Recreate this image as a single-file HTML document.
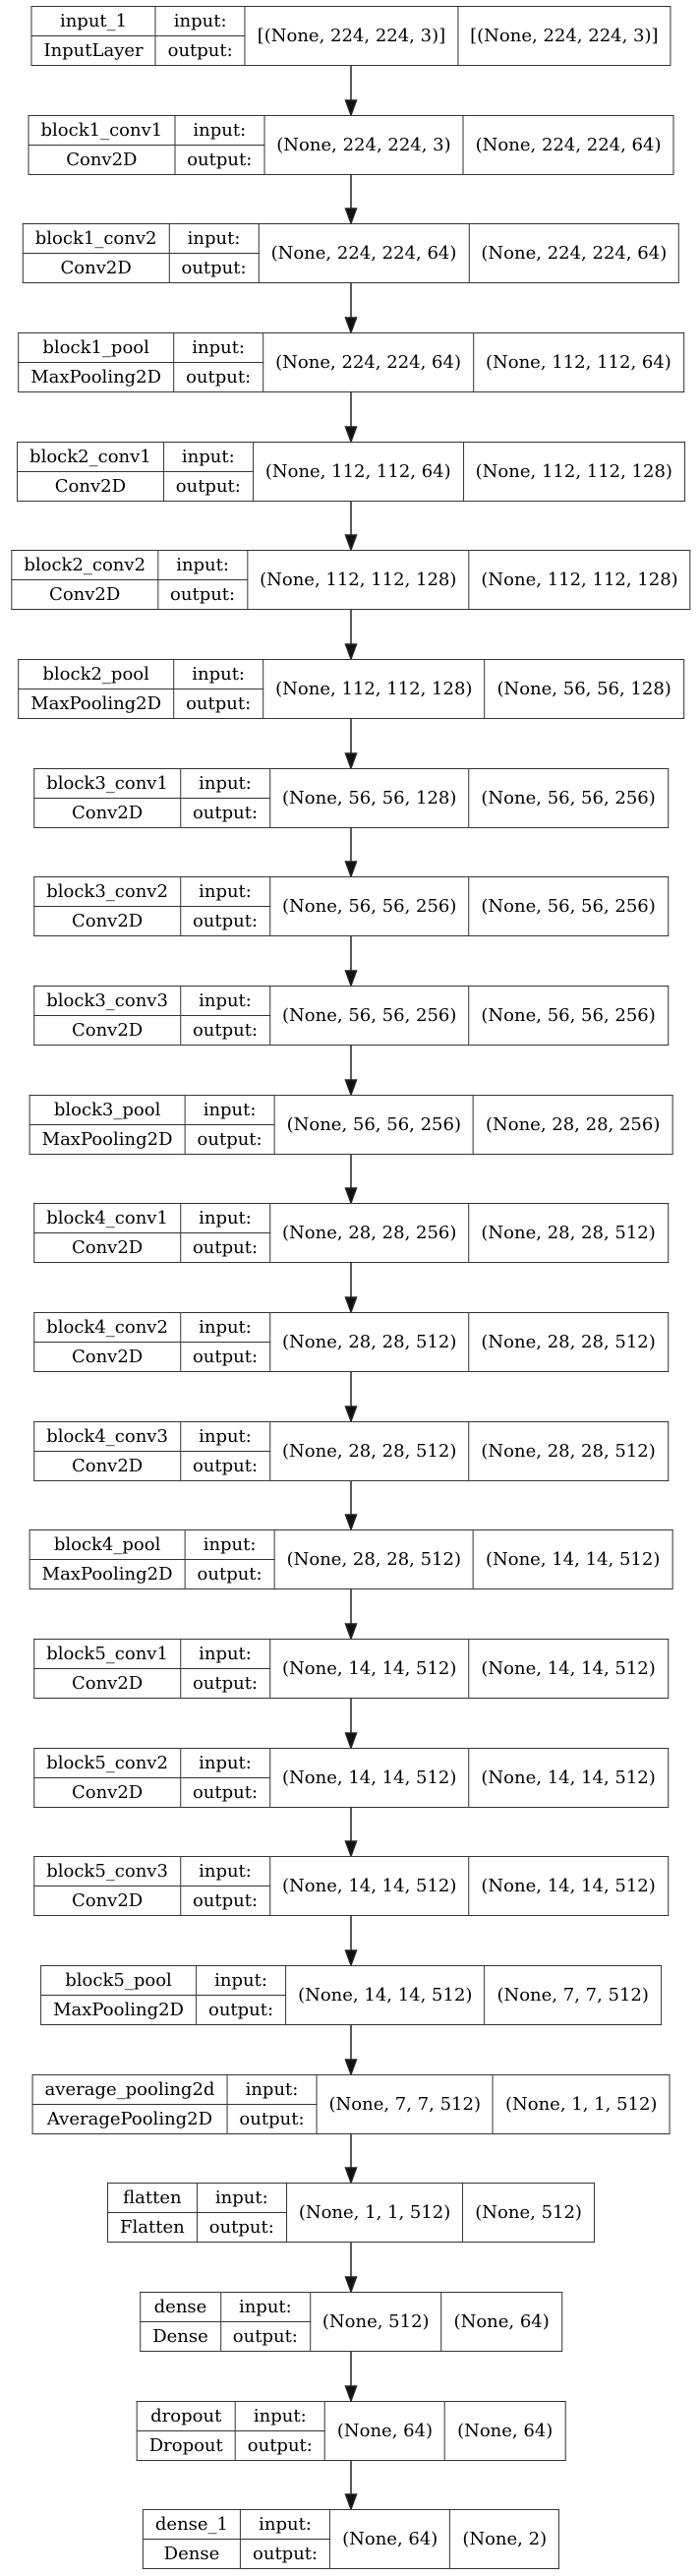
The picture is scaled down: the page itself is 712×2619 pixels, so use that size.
<!DOCTYPE html>
<html><head><meta charset="utf-8">
<style>
html,body{margin:0;padding:0;background:#fff;}
body{width:712px;height:2619px;position:relative;overflow:hidden;font-family:"DejaVu Serif","Liberation Serif",serif;font-size:18px;color:#000;}
table{position:absolute;left:357px;transform:translateX(-50%);border-collapse:collapse;background:#fff;}
td{border:1.5px solid #333;padding:0 12px;height:29px;line-height:1;text-align:center;white-space:nowrap;}
svg{position:absolute;left:0;top:0;}
</style></head><body>
<svg width="712" height="2619">
<g stroke="#222" stroke-width="1.5" fill="#111">
<line x1="357" y1="67" x2="357" y2="103"/><polygon points="351.5,102 362.5,102 357,117"/>
<line x1="357" y1="178" x2="357" y2="213"/><polygon points="351.5,212 362.5,212 357,227"/>
<line x1="357" y1="288" x2="357" y2="324"/><polygon points="351.5,323 362.5,323 357,338"/>
<line x1="357" y1="399" x2="357" y2="435"/><polygon points="351.5,434 362.5,434 357,449"/>
<line x1="357" y1="510" x2="357" y2="545"/><polygon points="351.5,544 362.5,544 357,559"/>
<line x1="357" y1="620" x2="357" y2="656"/><polygon points="351.5,655 362.5,655 357,670"/>
<line x1="357" y1="731" x2="357" y2="767"/><polygon points="351.5,766 362.5,766 357,781"/>
<line x1="357" y1="842" x2="357" y2="877"/><polygon points="351.5,876 362.5,876 357,891"/>
<line x1="357" y1="952" x2="357" y2="988"/><polygon points="351.5,987 362.5,987 357,1002"/>
<line x1="357" y1="1063" x2="357" y2="1099"/><polygon points="351.5,1098 362.5,1098 357,1113"/>
<line x1="357" y1="1174" x2="357" y2="1209"/><polygon points="351.5,1208 362.5,1208 357,1223"/>
<line x1="357" y1="1284" x2="357" y2="1320"/><polygon points="351.5,1319 362.5,1319 357,1334"/>
<line x1="357" y1="1395" x2="357" y2="1431"/><polygon points="351.5,1430 362.5,1430 357,1445"/>
<line x1="357" y1="1506" x2="357" y2="1541"/><polygon points="351.5,1540 362.5,1540 357,1555"/>
<line x1="357" y1="1616" x2="357" y2="1652"/><polygon points="351.5,1651 362.5,1651 357,1666"/>
<line x1="357" y1="1727" x2="357" y2="1763"/><polygon points="351.5,1762 362.5,1762 357,1777"/>
<line x1="357" y1="1838" x2="357" y2="1873"/><polygon points="351.5,1872 362.5,1872 357,1887"/>
<line x1="357" y1="1948" x2="357" y2="1984"/><polygon points="351.5,1983 362.5,1983 357,1998"/>
<line x1="357" y1="2059" x2="357" y2="2095"/><polygon points="351.5,2094 362.5,2094 357,2109"/>
<line x1="357" y1="2170" x2="357" y2="2205"/><polygon points="351.5,2204 362.5,2204 357,2219"/>
<line x1="357" y1="2280" x2="357" y2="2316"/><polygon points="351.5,2315 362.5,2315 357,2330"/>
<line x1="357" y1="2391" x2="357" y2="2427"/><polygon points="351.5,2426 362.5,2426 357,2441"/>
<line x1="357" y1="2502" x2="357" y2="2537"/><polygon points="351.5,2536 362.5,2536 357,2551"/>
</g></svg>

<table style="top:6px"><tr><td>input_1</td><td>input:</td><td rowspan="2">[(None, 224, 224, 3)]</td><td rowspan="2">[(None, 224, 224, 3)]</td></tr><tr><td>InputLayer</td><td>output:</td></tr></table>
<table style="top:117px"><tr><td>block1_conv1</td><td>input:</td><td rowspan="2">(None, 224, 224, 3)</td><td rowspan="2">(None, 224, 224, 64)</td></tr><tr><td>Conv2D</td><td>output:</td></tr></table>
<table style="top:227px"><tr><td>block1_conv2</td><td>input:</td><td rowspan="2">(None, 224, 224, 64)</td><td rowspan="2">(None, 224, 224, 64)</td></tr><tr><td>Conv2D</td><td>output:</td></tr></table>
<table style="top:338px"><tr><td>block1_pool</td><td>input:</td><td rowspan="2">(None, 224, 224, 64)</td><td rowspan="2">(None, 112, 112, 64)</td></tr><tr><td>MaxPooling2D</td><td>output:</td></tr></table>
<table style="top:449px"><tr><td>block2_conv1</td><td>input:</td><td rowspan="2">(None, 112, 112, 64)</td><td rowspan="2">(None, 112, 112, 128)</td></tr><tr><td>Conv2D</td><td>output:</td></tr></table>
<table style="top:559px"><tr><td>block2_conv2</td><td>input:</td><td rowspan="2">(None, 112, 112, 128)</td><td rowspan="2">(None, 112, 112, 128)</td></tr><tr><td>Conv2D</td><td>output:</td></tr></table>
<table style="top:670px"><tr><td>block2_pool</td><td>input:</td><td rowspan="2">(None, 112, 112, 128)</td><td rowspan="2">(None, 56, 56, 128)</td></tr><tr><td>MaxPooling2D</td><td>output:</td></tr></table>
<table style="top:781px"><tr><td>block3_conv1</td><td>input:</td><td rowspan="2">(None, 56, 56, 128)</td><td rowspan="2">(None, 56, 56, 256)</td></tr><tr><td>Conv2D</td><td>output:</td></tr></table>
<table style="top:891px"><tr><td>block3_conv2</td><td>input:</td><td rowspan="2">(None, 56, 56, 256)</td><td rowspan="2">(None, 56, 56, 256)</td></tr><tr><td>Conv2D</td><td>output:</td></tr></table>
<table style="top:1002px"><tr><td>block3_conv3</td><td>input:</td><td rowspan="2">(None, 56, 56, 256)</td><td rowspan="2">(None, 56, 56, 256)</td></tr><tr><td>Conv2D</td><td>output:</td></tr></table>
<table style="top:1113px"><tr><td>block3_pool</td><td>input:</td><td rowspan="2">(None, 56, 56, 256)</td><td rowspan="2">(None, 28, 28, 256)</td></tr><tr><td>MaxPooling2D</td><td>output:</td></tr></table>
<table style="top:1223px"><tr><td>block4_conv1</td><td>input:</td><td rowspan="2">(None, 28, 28, 256)</td><td rowspan="2">(None, 28, 28, 512)</td></tr><tr><td>Conv2D</td><td>output:</td></tr></table>
<table style="top:1334px"><tr><td>block4_conv2</td><td>input:</td><td rowspan="2">(None, 28, 28, 512)</td><td rowspan="2">(None, 28, 28, 512)</td></tr><tr><td>Conv2D</td><td>output:</td></tr></table>
<table style="top:1445px"><tr><td>block4_conv3</td><td>input:</td><td rowspan="2">(None, 28, 28, 512)</td><td rowspan="2">(None, 28, 28, 512)</td></tr><tr><td>Conv2D</td><td>output:</td></tr></table>
<table style="top:1555px"><tr><td>block4_pool</td><td>input:</td><td rowspan="2">(None, 28, 28, 512)</td><td rowspan="2">(None, 14, 14, 512)</td></tr><tr><td>MaxPooling2D</td><td>output:</td></tr></table>
<table style="top:1666px"><tr><td>block5_conv1</td><td>input:</td><td rowspan="2">(None, 14, 14, 512)</td><td rowspan="2">(None, 14, 14, 512)</td></tr><tr><td>Conv2D</td><td>output:</td></tr></table>
<table style="top:1777px"><tr><td>block5_conv2</td><td>input:</td><td rowspan="2">(None, 14, 14, 512)</td><td rowspan="2">(None, 14, 14, 512)</td></tr><tr><td>Conv2D</td><td>output:</td></tr></table>
<table style="top:1887px"><tr><td>block5_conv3</td><td>input:</td><td rowspan="2">(None, 14, 14, 512)</td><td rowspan="2">(None, 14, 14, 512)</td></tr><tr><td>Conv2D</td><td>output:</td></tr></table>
<table style="top:1998px"><tr><td>block5_pool</td><td>input:</td><td rowspan="2">(None, 14, 14, 512)</td><td rowspan="2">(None, 7, 7, 512)</td></tr><tr><td>MaxPooling2D</td><td>output:</td></tr></table>
<table style="top:2109px"><tr><td>average_pooling2d</td><td>input:</td><td rowspan="2">(None, 7, 7, 512)</td><td rowspan="2">(None, 1, 1, 512)</td></tr><tr><td>AveragePooling2D</td><td>output:</td></tr></table>
<table style="top:2219px"><tr><td>flatten</td><td>input:</td><td rowspan="2">(None, 1, 1, 512)</td><td rowspan="2">(None, 512)</td></tr><tr><td>Flatten</td><td>output:</td></tr></table>
<table style="top:2330px"><tr><td>dense</td><td>input:</td><td rowspan="2">(None, 512)</td><td rowspan="2">(None, 64)</td></tr><tr><td>Dense</td><td>output:</td></tr></table>
<table style="top:2441px"><tr><td>dropout</td><td>input:</td><td rowspan="2">(None, 64)</td><td rowspan="2">(None, 64)</td></tr><tr><td>Dropout</td><td>output:</td></tr></table>
<table style="top:2551px"><tr><td>dense_1</td><td>input:</td><td rowspan="2">(None, 64)</td><td rowspan="2">(None, 2)</td></tr><tr><td>Dense</td><td>output:</td></tr></table>
</body></html>
